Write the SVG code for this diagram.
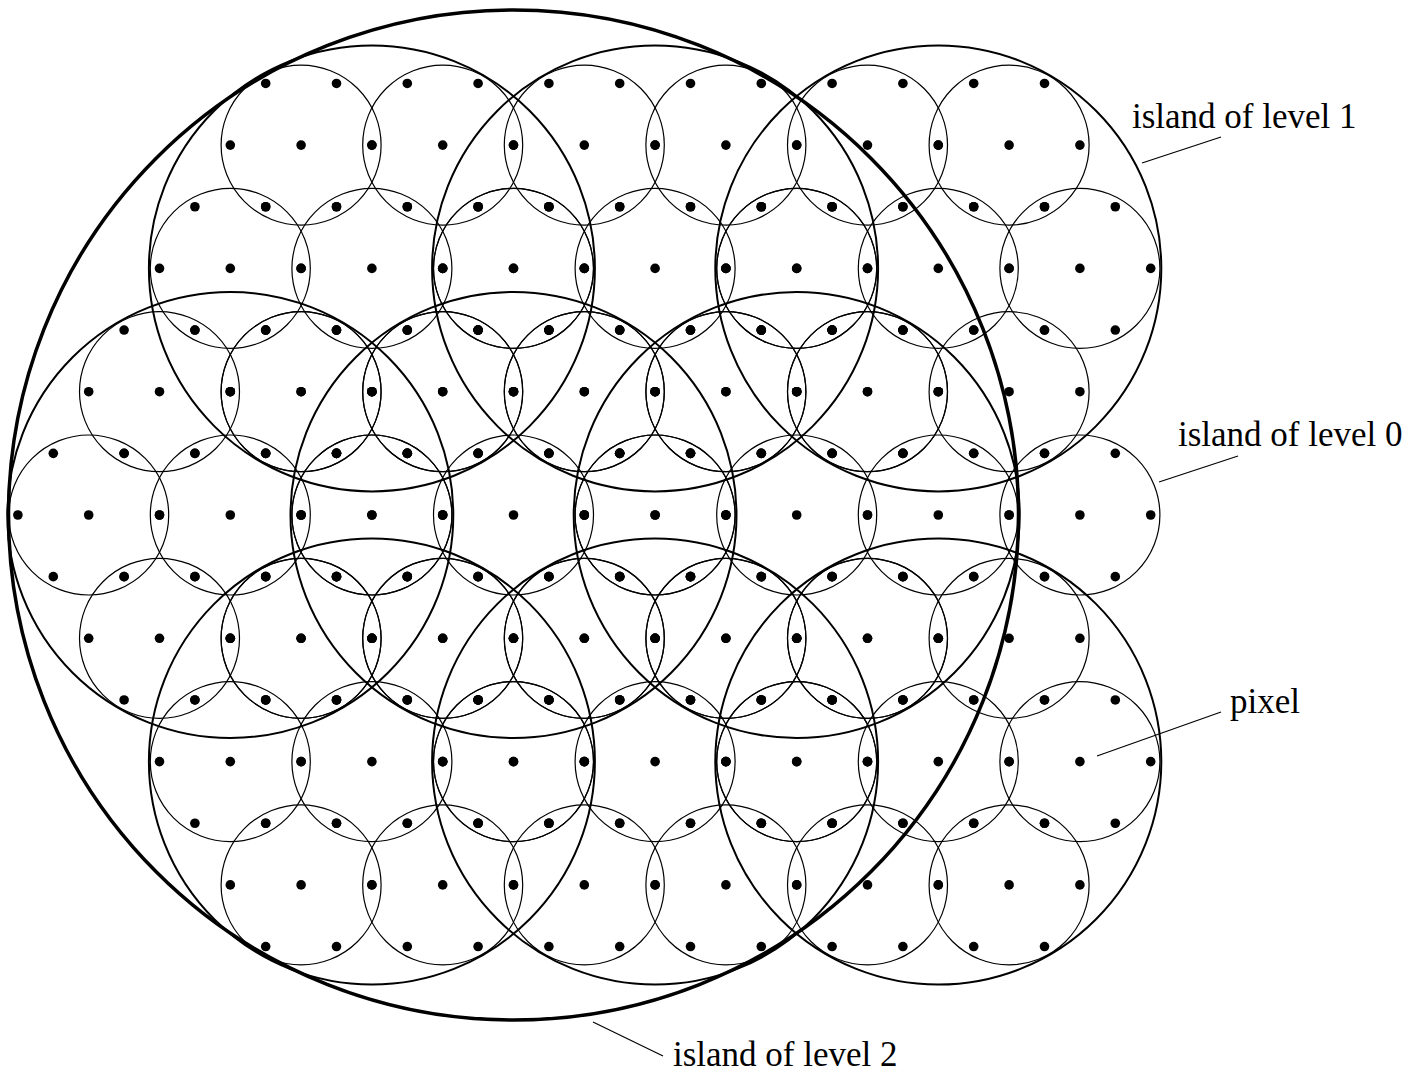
<svg xmlns="http://www.w3.org/2000/svg" xmlns:xlink="http://www.w3.org/1999/xlink" width="1422" height="1070" viewBox="0 0 1422 1070">
<style>
.c0{fill:none;stroke:#000;stroke-width:1.2}
.c1{fill:none;stroke:#000;stroke-width:2}
.c2{fill:none;stroke:#000;stroke-width:3.5}
.px{fill:#000}
.lead{stroke:#000;stroke-width:1.2;fill:none}
.lbl{font-family:"Liberation Serif","Times New Roman",serif;font-size:35px;fill:#000}
</style>
<defs>
<g id="pix">
<circle class="px" cx="0" cy="0" r="4.8"/>
<circle class="px" cx="70.8" cy="0" r="4.8"/>
<circle class="px" cx="-70.8" cy="0" r="4.8"/>
<circle class="px" cx="35.4" cy="61.65" r="4.8"/>
<circle class="px" cx="-35.4" cy="61.65" r="4.8"/>
<circle class="px" cx="35.4" cy="-61.65" r="4.8"/>
<circle class="px" cx="-35.4" cy="-61.65" r="4.8"/>
</g>
<g id="L0">
<circle class="c0" cx="0" cy="0" r="80"/>
<use xlink:href="#pix" href="#pix"/>
</g>
<g id="L1">
<circle class="c1" cx="0" cy="0" r="223"/>
<use xlink:href="#L0" href="#L0" x="0" y="0"/>
<use xlink:href="#L0" href="#L0" x="141.6" y="0"/>
<use xlink:href="#L0" href="#L0" x="-141.6" y="0"/>
<use xlink:href="#L0" href="#L0" x="70.8" y="123.3"/>
<use xlink:href="#L0" href="#L0" x="-70.8" y="123.3"/>
<use xlink:href="#L0" href="#L0" x="70.8" y="-123.3"/>
<use xlink:href="#L0" href="#L0" x="-70.8" y="-123.3"/>
</g>
</defs>
<g id="island-level2">
<circle class="c2" cx="513.5" cy="515" r="505"/>
</g>
<g id="island-level1-center"><use xlink:href="#L1" href="#L1" x="513.5" y="515"/></g>
<g id="island-level1-right"><use xlink:href="#L1" href="#L1" x="796.7" y="515"/></g>
<g id="island-level1-left"><use xlink:href="#L1" href="#L1" x="230.3" y="515"/></g>
<g id="island-level1-top-mid"><use xlink:href="#L1" href="#L1" x="655.1" y="268.4"/></g>
<g id="island-level1-top-left"><use xlink:href="#L1" href="#L1" x="371.9" y="268.4"/></g>
<g id="island-level1-bot-mid"><use xlink:href="#L1" href="#L1" x="655.1" y="761.6"/></g>
<g id="island-level1-bot-left"><use xlink:href="#L1" href="#L1" x="371.9" y="761.6"/></g>
<g id="island-level1-top-right"><use xlink:href="#L1" href="#L1" x="938.3" y="268.4"/></g>
<g id="island-level1-bot-right"><use xlink:href="#L1" href="#L1" x="938.3" y="761.6"/></g>
<g id="island-level0-extra"><use xlink:href="#L0" href="#L0" x="1079.9" y="515"/></g>
<g id="connectors">
<line class="lead" x1="1142" y1="163" x2="1221" y2="137"/>
<line class="lead" x1="1159" y1="482" x2="1238" y2="456"/>
<line class="lead" x1="1097" y1="756" x2="1221" y2="712"/>
<line class="lead" x1="593" y1="1022" x2="663" y2="1056"/>
</g>
<g id="labels">
<text class="lbl" x="1132" y="128">island of level 1</text>
<text class="lbl" x="1178" y="446">island of level 0</text>
<text class="lbl" x="1230" y="713">pixel</text>
<text class="lbl" x="673" y="1066">island of level 2</text>
</g>
</svg>
